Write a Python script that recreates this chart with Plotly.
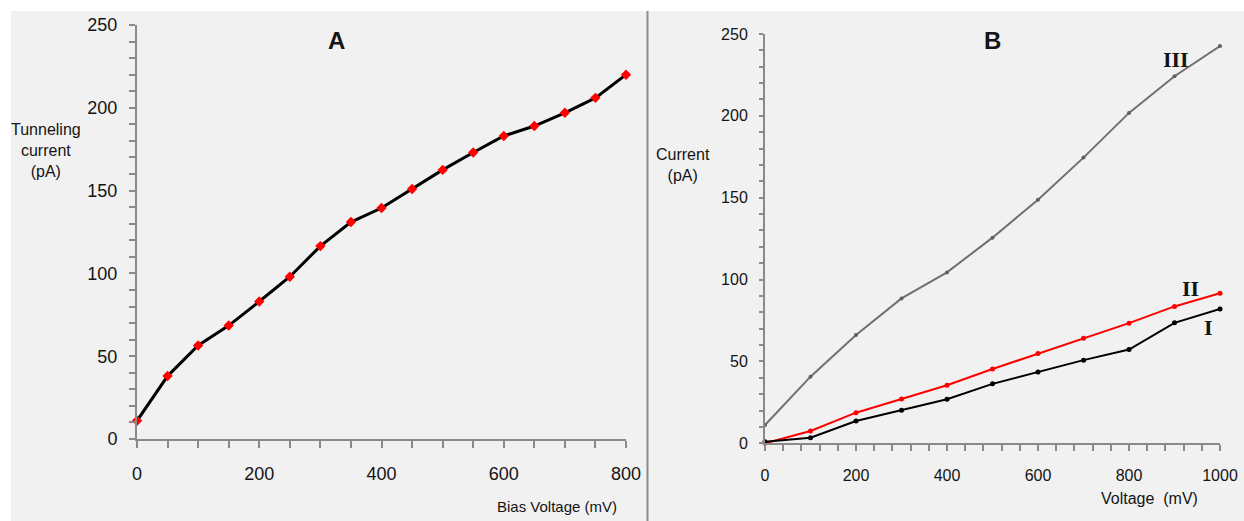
import plotly.graph_objects as go

# ---- Panel A data ----
bias_mv = [0, 50, 100, 150, 200, 250, 300, 350, 400, 450, 500, 550, 600, 650, 700, 750, 800]
tunnel_pa = [11, 38, 56.5, 68.5, 83, 98, 116.5, 131, 139.5, 151, 162.5, 173, 183, 189, 197, 206, 220]

# ---- Panel B data ----
volt_mv = [0, 100, 200, 300, 400, 500, 600, 700, 800, 900, 1000]
cur_I = [1, 3.4, 13.6, 20.2, 26.9, 36.3, 43.6, 50.8, 57.3, 73.6, 82]
cur_II = [0, 7.5, 18.7, 27.1, 35.5, 45.4, 54.8, 64.2, 73.4, 83.6, 91.7]
cur_III = [11.2, 40.7, 66.2, 88.5, 104.4, 125.6, 148.8, 174.5, 201.8, 224.2, 242.6]

A_xticks = [0, 200, 400, 600, 800]
A_yticks = [0, 50, 100, 150, 200, 250]
B_xticks = [0, 200, 400, 600, 800, 1000]
B_yticks = [0, 50, 100, 150, 200, 250]

W, H = 1244, 521
def px(x):
    return x / W
def py(y):
    return (H - y) / H

FONT = "Liberation Sans, Arial, sans-serif"
TXT = "#141414"
AXC = "#8a8a8a"

fig = go.Figure()

fig.add_trace(go.Scatter(
    x=bias_mv, y=tunnel_pa, mode="lines+markers",
    line=dict(color="black", width=3),
    marker=dict(symbol="diamond", color="#ff0000", size=8),
    xaxis="x", yaxis="y", cliponaxis=False, showlegend=False))

fig.add_trace(go.Scatter(
    x=volt_mv, y=cur_III, mode="lines+markers",
    line=dict(color="#707070", width=2),
    marker=dict(symbol="circle", color="#606060", size=4),
    xaxis="x2", yaxis="y2", cliponaxis=False, showlegend=False))
fig.add_trace(go.Scatter(
    x=volt_mv, y=cur_II, mode="lines+markers",
    line=dict(color="#ff0000", width=2),
    marker=dict(symbol="circle", color="#ff0000", size=5),
    xaxis="x2", yaxis="y2", cliponaxis=False, showlegend=False))
fig.add_trace(go.Scatter(
    x=volt_mv, y=cur_I, mode="lines+markers",
    line=dict(color="black", width=2),
    marker=dict(symbol="circle", color="black", size=5),
    xaxis="x2", yaxis="y2", cliponaxis=False, showlegend=False))

common = dict(showgrid=False, zeroline=False, showline=True, linecolor=AXC, linewidth=2,
              ticks="outside", tickcolor=AXC, tickwidth=1.5, fixedrange=True, automargin=False)

fig.update_layout(
    width=W, height=H, autosize=False,
    margin=dict(l=0, r=0, t=0, b=0, autoexpand=False),
    paper_bgcolor="white", plot_bgcolor="rgba(0,0,0,0)",
    font=dict(family=FONT, color=TXT),
    xaxis=dict(domain=[px(137), px(626)], range=[0, 800], anchor="y",
               tickvals=A_xticks, ticklen=7, tickfont=dict(size=18), ticklabelstandoff=10,
               minor=dict(dtick=50, ticklen=7, ticks="outside", tickcolor=AXC, tickwidth=1.5),
               **common),
    yaxis=dict(domain=[py(439), py(25)], range=[0, 250], anchor="x",
               tickvals=A_yticks, ticklen=6, tickfont=dict(size=18), ticklabelstandoff=8,
               minor=dict(dtick=10, ticklen=6, ticks="outside", tickcolor=AXC, tickwidth=1.5),
               **common),
    xaxis2=dict(domain=[px(765), px(1220)], range=[0, 1000], anchor="y2",
                tickvals=B_xticks, ticklen=6, tickfont=dict(size=16), ticklabelstandoff=10,
                minor=dict(dtick=40, ticklen=6, ticks="outside", tickcolor=AXC, tickwidth=1.5),
                **common),
    yaxis2=dict(domain=[py(443.3), py(34)], range=[0, 250], anchor="x2",
                tickvals=B_yticks, ticklen=4, tickfont=dict(size=16), ticklabelstandoff=8,
                minor=dict(dtick=10, ticklen=4, ticks="outside", tickcolor=AXC, tickwidth=1.5),
                **common),
    shapes=[
        dict(type="rect", xref="paper", yref="paper", x0=px(11), x1=1, y0=0, y1=py(11),
             fillcolor="#f1f1f1", line=dict(width=0), layer="below"),
        dict(type="line", xref="paper", yref="paper", x0=px(647.5), x1=px(647.5), y0=0, y1=py(11),
             line=dict(color="#8c8c8c", width=2), layer="below"),
    ],
)

ann = [
    dict(text="Tunneling<br>current<br>(pA)", x=px(46), y=py(150), size=16, family=FONT),
    dict(text="Bias Voltage (mV)", x=px(556.5), y=py(506.5), size=15, family=FONT),
    dict(text="<b>A</b>", x=px(336), y=py(40), size=24, family=FONT),
    dict(text="<b>B</b>", x=px(992.5), y=py(40), size=24, family=FONT),
    dict(text="Current<br>(pA)", x=px(683), y=py(165), size=16, family=FONT),
    dict(text="Voltage\u00a0 (mV)", x=px(1149.5), y=py(498.5), size=16, family=FONT),
    dict(text="<b>III</b>", x=px(1176), y=py(59), size=22, family="Liberation Serif, Times New Roman, serif"),
    dict(text="<b>II</b>", x=px(1190.5), y=py(288), size=22, family="Liberation Serif, Times New Roman, serif"),
    dict(text="<b>I</b>", x=px(1208), y=py(328), size=22, family="Liberation Serif, Times New Roman, serif"),
]
for a in ann:
    fig.add_annotation(text=a["text"], x=a["x"], y=a["y"], xref="paper", yref="paper",
                       xanchor="center", yanchor="middle", showarrow=False,
                       font=dict(size=a["size"], family=a["family"], color=TXT))

fig.write_html("out.html", config={"responsive": False, "displayModeBar": False},
               post_script="document.body.style.margin='0';document.body.style.overflow='hidden';")
